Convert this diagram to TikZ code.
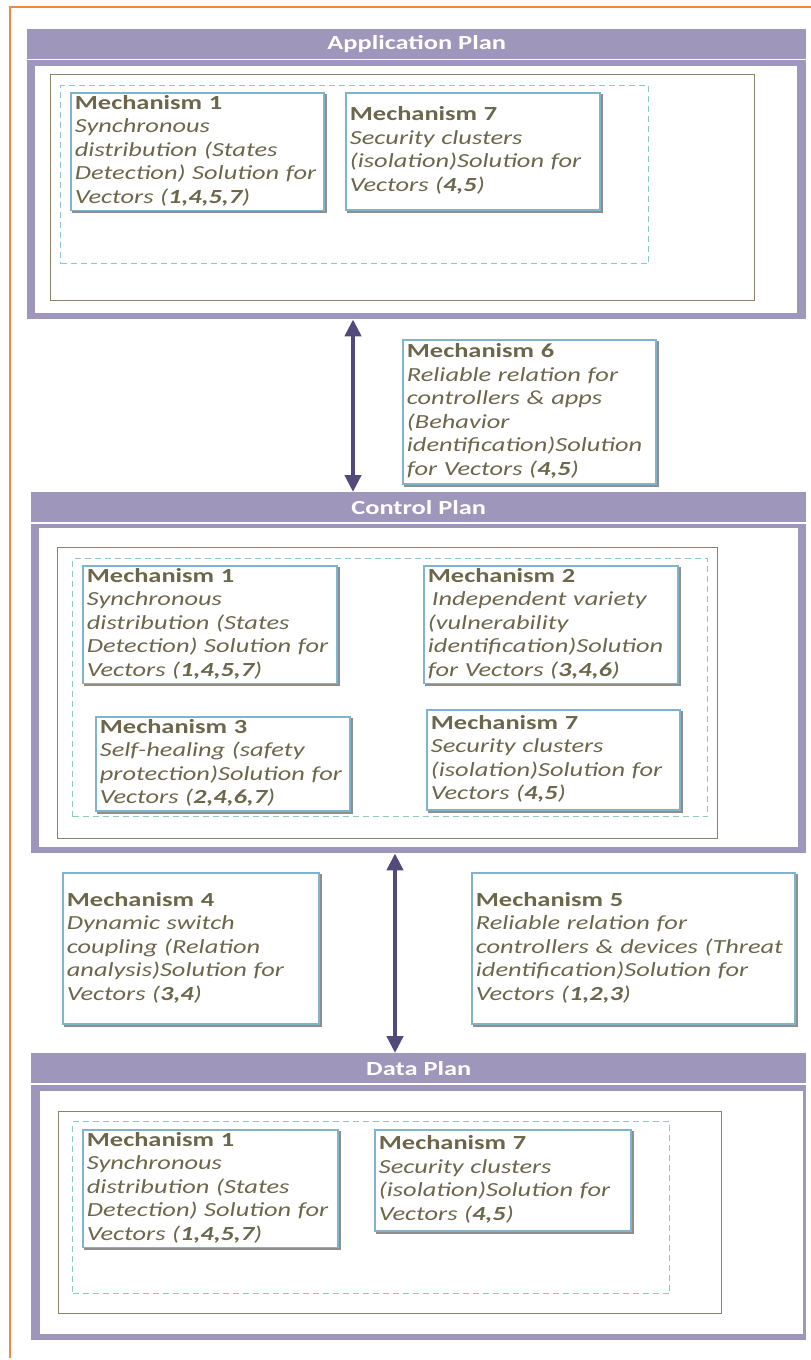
\documentclass[tikz,border=0pt]{standalone}
\usepackage{fontspec}
\usepackage{array}
\setmainfont{Carlito}[FakeStretch=1.32]
\usetikzlibrary{arrows.meta}

\definecolor{planfill}{HTML}{9E96BB}
\definecolor{arrowcol}{HTML}{524A7B}
\definecolor{txtcol}{HTML}{6C674B}
\definecolor{boxblue}{HTML}{80B4CD}
\definecolor{shadowcol}{HTML}{8E8E8E}
\definecolor{olivecol}{HTML}{8A8568}
\definecolor{dashcol}{HTML}{8ECABD}
\definecolor{framecol}{HTML}{F0883E}

% body of a mechanism card: bold title, italic description
\newcommand\mechtxt[2]{\begin{tabular}{@{}>{\itshape}l@{}}{\upshape\bfseries #1}\\ #2\end{tabular}}

\tikzset{
  planhead/.style={fill=planfill, anchor=north west, inner sep=0pt, text=white,
    font=\fontsize{20}{23.5}\selectfont\bfseries, minimum height=30pt},
  planframe/.style={fill=planfill, anchor=north west, inner sep=0pt},
  planinner/.style={fill=white, anchor=north west, inner sep=0pt},
  olivebox/.style={draw=olivecol, line width=1.1pt, anchor=north west, inner sep=0pt},
  dashbox/.style={draw=dashcol, line width=1.1pt, dash pattern=on 6pt off 4pt,
    anchor=north west, inner sep=0pt},
  mech/.style={draw=boxblue, line width=1.8pt, fill=white, anchor=north west,
    inner xsep=4pt, inner ysep=0pt, align=left, text=txtcol,
    font=\fontsize{20}{23.5}\selectfont,
    preaction={draw=shadowcol, line width=2pt,
      transform canvas={shift={(1.8pt,-1.8pt)}}}},
  dblarrow/.style={draw=arrowcol, line width=4.5pt,
    {Triangle[width=16pt,length=17pt]}-{Triangle[width=16pt,length=17pt]}},
}

\begin{document}
\begin{tikzpicture}[x=1pt,y=-1pt]
\useasboundingbox (0,0) rectangle (811,1360);

% page frame
\draw[framecol, line width=1.6pt] (10,1358) -- (10,7) -- (815,7);

% ---------------- Application plane ----------------
\node[planhead, minimum width=779pt] (apphead) at (27,29) {Application Plan};
\node[planframe, minimum width=779pt, minimum height=259pt] (appframe) at (27,60) {};
\node[planinner, minimum width=762pt, minimum height=247pt] (appin) at (35,66) {};
\node[olivebox, minimum width=704pt, minimum height=226pt] (appolive) at (50,74) {};
\node[dashbox, minimum width=588pt, minimum height=178pt] (appdash) at (60,85) {};
\node[mech, minimum width=253pt, minimum height=115pt, text width=245pt] (a1) at (70,92)
  {\mechtxt{Mechanism 1}{Synchronous\\ distribution (States\\ Detection) Solution for\\ Vectors (\textbf{1,4,5,7})}};
\node[mech, minimum width=254pt, minimum height=117pt, text width=246pt] (a7) at (345,92)
  {\mechtxt{Mechanism 7}{Security clusters\\ (isolation)Solution for\\ Vectors (\textbf{4,5})}};

% ---------------- between application and control ----------------
\node[mech, minimum width=253pt, minimum height=144pt, text width=245pt] (m6) at (402,339)
  {\mechtxt{Mechanism 6}{Reliable relation for\\ controllers \& apps\\ (Behavior\\ identification)Solution\\ for Vectors (\textbf{4,5})}};

% ---------------- Control plane ----------------
\node[planhead, minimum width=775pt] (ctrlhead) at (31,492) {Control Plan};
\node[planframe, minimum width=775pt, minimum height=329pt] (ctrlframe) at (31,524) {};
\node[planinner, minimum width=759pt, minimum height=319pt] (ctrlin) at (39,528) {};
\node[olivebox, minimum width=660pt, minimum height=291pt] (ctrlolive) at (57,547) {};
\node[dashbox, minimum width=635pt, minimum height=258pt] (ctrldash) at (72,558) {};
\node[mech, minimum width=254pt, minimum height=116pt, text width=246pt] (c1) at (82,565)
  {\mechtxt{Mechanism 1}{Synchronous\\ distribution (States\\ Detection) Solution for\\ Vectors (\textbf{1,4,5,7})}};
\node[mech, minimum width=254pt, minimum height=116pt, text width=246pt] (c2) at (423,565)
  {\mechtxt{Mechanism 2}{\hspace{4pt}Independent variety\\ (vulnerability\\ identification)Solution\\ for Vectors (\textbf{3,4,6})}};
\node[mech, minimum width=254pt, minimum height=93pt, text width=246pt] (c3) at (95,716)
  {\mechtxt{Mechanism 3}{Self-healing (safety\\ protection)Solution for\\ Vectors (\textbf{2,4,6,7})}};
\node[mech, minimum width=253pt, minimum height=100pt, text width=245pt] (c7) at (426,709)
  {\mechtxt{Mechanism 7}{Security clusters\\ (isolation)Solution for\\ Vectors (\textbf{4,5})}};

% ---------------- between control and data ----------------
\node[mech, minimum width=256pt, minimum height=151pt, text width=248pt] (m4) at (62,872)
  {\mechtxt{Mechanism 4}{Dynamic switch\\ coupling (Relation\\ analysis)Solution for\\ Vectors (\textbf{3,4})}};
\node[mech, minimum width=323pt, minimum height=151pt, text width=315pt] (m5) at (471,872)
  {\mechtxt{Mechanism 5}{Reliable relation for\\ controllers \& devices (Threat\\ identification)Solution for\\ Vectors (\textbf{1,2,3})}};

% ---------------- Data plane ----------------
\node[planhead, minimum width=775pt] (datahead) at (31,1053) {Data Plan};
\node[planframe, minimum width=775pt, minimum height=255pt] (dataframe) at (31,1085) {};
\node[planinner, minimum width=763pt, minimum height=243pt] (datain) at (40,1091) {};
\node[olivebox, minimum width=663pt, minimum height=202pt] (dataolive) at (58,1111) {};
\node[dashbox, minimum width=597pt, minimum height=172pt] (datadash) at (72,1121) {};
\node[mech, minimum width=255pt, minimum height=116pt, text width=247pt] (d1) at (82,1129)
  {\mechtxt{Mechanism 1}{Synchronous\\ distribution (States\\ Detection) Solution for\\ Vectors (\textbf{1,4,5,7})}};
\node[mech, minimum width=256pt, minimum height=101pt, text width=248pt] (d7) at (374,1129)
  {\mechtxt{Mechanism 7}{Security clusters\\ (isolation)Solution for\\ Vectors (\textbf{4,5})}};

% ---------------- plane-to-plane links ----------------
\coordinate (linkA) at (353,0);
\coordinate (linkB) at (395,0);
\draw[dblarrow] (appframe.south -| linkA) -- (ctrlhead.north -| linkA);
\draw[dblarrow] (ctrlframe.south -| linkB) -- (datahead.north -| linkB);
\end{tikzpicture}
\end{document}
